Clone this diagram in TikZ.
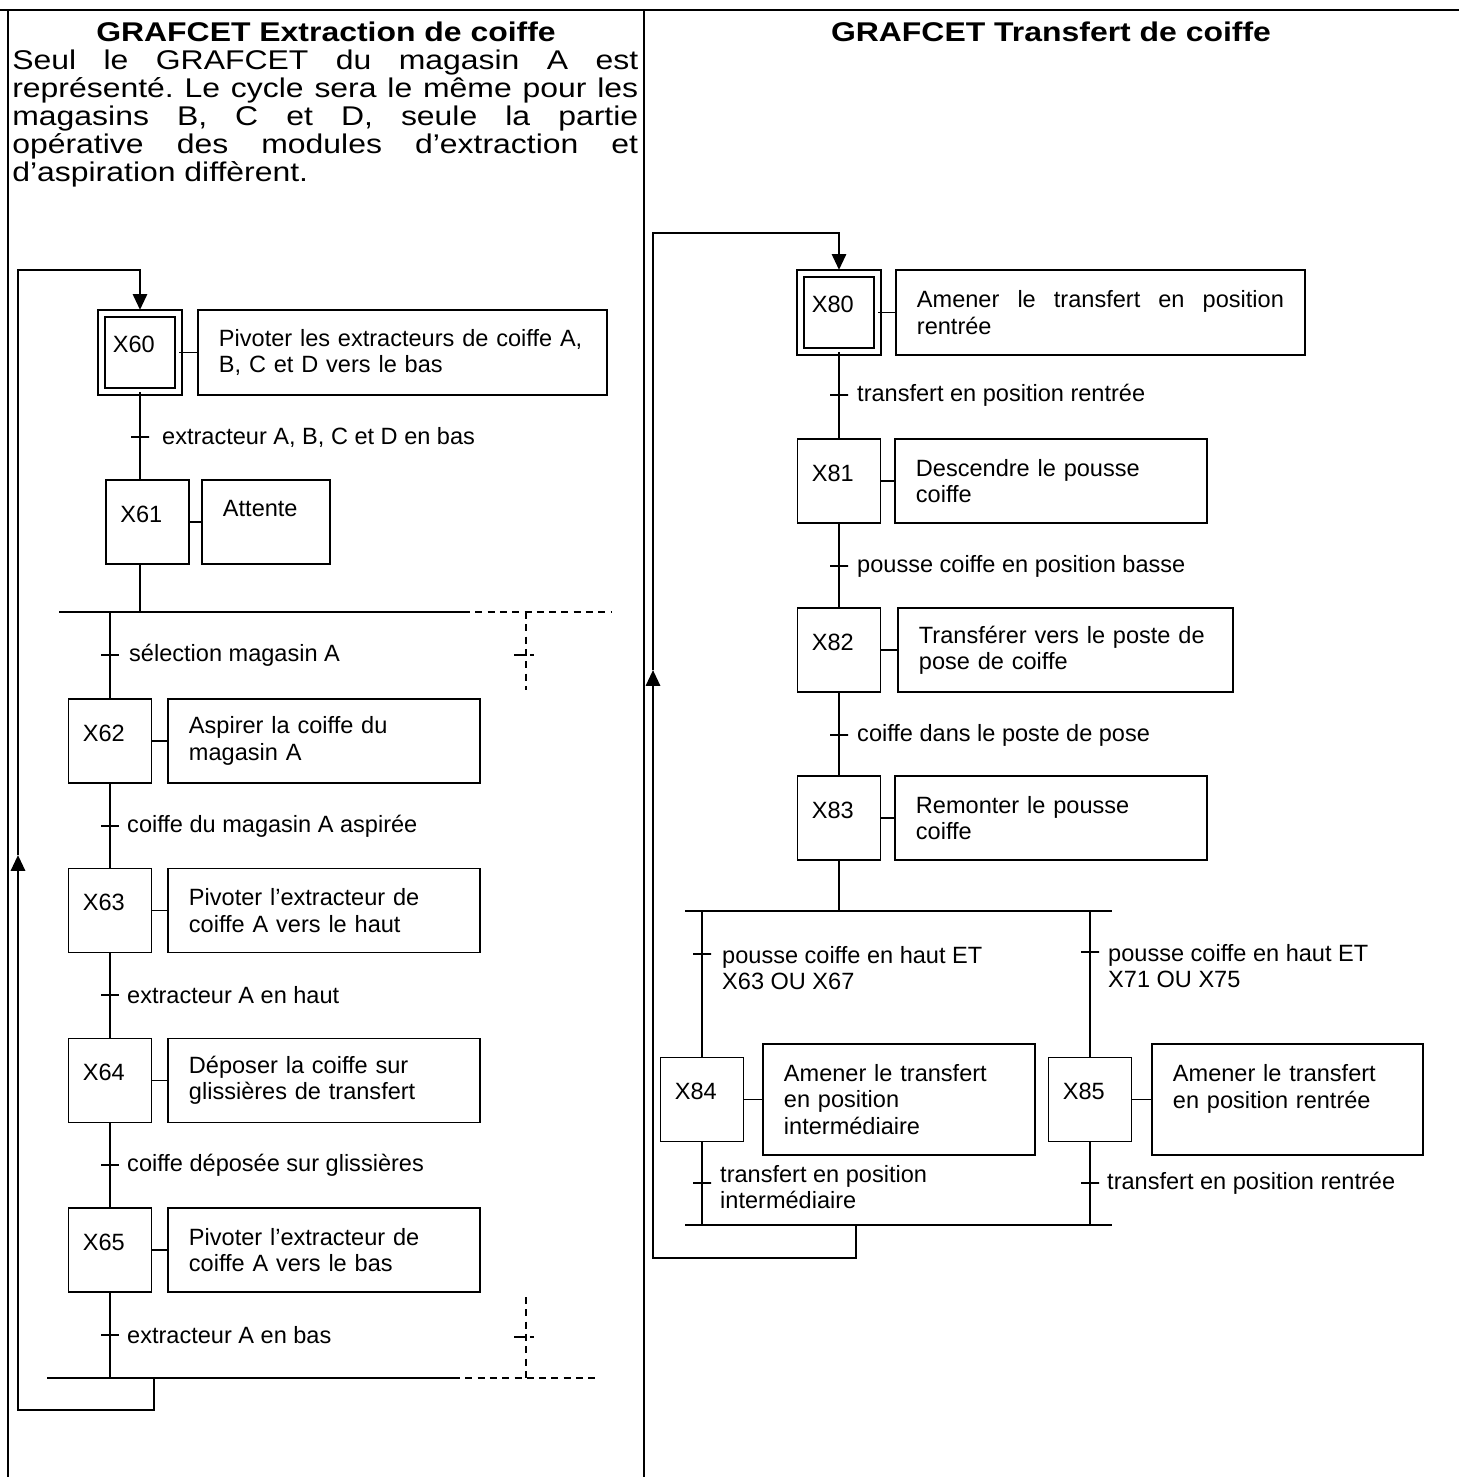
\documentclass[tikz,border=0pt]{standalone}
\usepackage{fontspec}
\setmainfont{Liberation Sans}
\newfontfamily\largefont{Liberation Sans}[FakeStretch=1.18]
\usetikzlibrary{arrows.meta,positioning,calc}
\hyphenpenalty=10000
\exhyphenpenalty=10000
\frenchspacing

\newcommand{\policeboite}{\fontsize{13.4pt}{15pt}\selectfont}
\newcommand{\policetexte}{\largefont\fontsize{15.4pt}{15.93pt}\selectfont}

\tikzset{
  % Etape du grafcet
  etape/.style={
    rectangle, draw, line width=1.1pt,
    minimum width=1.66cm, minimum height=1.68cm,
    inner sep=0pt, text height=6pt, text depth=6pt,
    font=\policeboite, execute at end node={\hspace{7pt}}
  },
  % Etape initiale (double cadre)
  etapeinit/.style={
    etape, double, double distance=2.4pt,
    minimum width=1.54cm, minimum height=1.56cm
  },
  % Rectangle d'action
  action/.style={
    rectangle, draw, line width=1.1pt, anchor=west,
    text width=#1, inner xsep=0.42cm, inner ysep=0pt,
    minimum height=1.68cm, align=left, font=\policeboite
  },
  % Trait de transition
  recep/.style={
    rectangle, draw, line width=1pt,
    minimum width=0.36cm, minimum height=0pt, inner sep=0pt
  },
  % Receptivite
  cond/.style={font=\policeboite, inner sep=0pt, align=left, anchor=west},
  % Traits
  liaison/.style={line width=1pt},
  barre/.style={line width=1.2pt},
  renvoi/.style={line width=1.5pt},
  fleche/.style={renvoi, -{Triangle[length=9pt,width=8pt]}},
  pointille/.style={line width=1pt, dash pattern=on 4pt off 3pt},
  % transition en pointille
  recepvide/.style={line width=1pt, dash pattern=on 6.8pt off 2.3pt on 2.3pt off 20pt}
}

\begin{document}
\begin{tikzpicture}[x=0.02cm, y=-0.02cm]
  \useasboundingbox (0,0) rectangle (1459,1477);

  % ---- CADRE ----
  \draw[line width=1.3pt] (0,10) -- (1459,10);
  \draw[line width=1.1pt] (8,10) -- (8,1477);
  \draw[line width=1.1pt] (644,10) -- (644,1477);

  % ---- TITRES ----
  \node[font=\policetexte\bfseries, anchor=base] (titreG) at (326,41.5) {GRAFCET Extraction de coiffe};
  \node[font=\policetexte\bfseries, anchor=base] (titreD) at (1051,41.5) {GRAFCET Transfert de coiffe};
  \node[font=\policetexte, anchor=north west, inner sep=0pt, text width=12.52cm, align=justify] (texteG) at (12,50)
    {Seul le GRAFCET du magasin A est\linebreak représenté. Le cycle sera le même pour les\linebreak magasins B, C et D, seule la partie\linebreak opérative des modules d’extraction et\linebreak d’aspiration diffèrent.};

  % ==== GRAFCET EXTRACTION ====
  \node[etapeinit] (X60) at (140,352.5) {X60};
  \node[action=7.34cm, minimum height=1.7cm] (A60) at (197,352.5) {Pivoter les extracteurs de coiffe A,\\B, C et D vers le bas};
  \node[recep] (t60) at (140,437) {};
  \node[cond, right=0.24cm of t60] (c60) {extracteur A, B, C et D en bas};
  \node[etape] (X61) at (147.5,522) {X61};
  \node[action=1.72cm] (A61) at (201,522) {Attente\\\mbox{}};

  % divergence en OU
  \coordinate (d1) at (59,612);
  \coordinate (d2) at (463,612);
  \coordinate (d3) at (611,612);
  \coordinate (p1) at (526,690);

  \node[recep] (t61) at (110,655) {};
  \node[cond, right=0.18cm of t61] (c61) {sélection magasin A};
  \node[etape] (X62) at (110,741) {X62};
  \node[action=5.4cm] (A62) at (167,741) {Aspirer la coiffe du\\magasin A};
  \node[recep] (t62) at (110,826) {};
  \node[cond, right=0.14cm of t62] (c62) {coiffe du magasin A aspirée};
  \node[etape] (X63) at (110,910.5) {X63};
  \node[action=5.4cm] (A63) at (167,910.5) {Pivoter l’extracteur de\\coiffe A vers le haut};
  \node[recep] (t63) at (110,995) {};
  \node[cond, right=0.14cm of t63] (c63) {extracteur A en haut};
  \node[etape] (X64) at (110,1080.5) {X64};
  \node[action=5.4cm] (A64) at (167,1080.5) {Déposer la coiffe sur\\glissières de transfert};
  \node[recep] (t64) at (110,1165) {};
  \node[cond, right=0.14cm of t64] (c64) {coiffe déposée sur glissières};
  \node[etape] (X65) at (110,1250) {X65};
  \node[action=5.4cm] (A65) at (167,1250) {Pivoter l’extracteur de\\coiffe A vers le bas};
  \node[recep] (t65) at (110,1335) {};
  \node[cond, right=0.14cm of t65] (c65) {extracteur A en bas};

  % convergence en OU
  \coordinate (f1) at (47,1378);
  \coordinate (f2) at (453,1378);
  \coordinate (f3) at (598,1378);
  \coordinate (p2) at (526,1297);

  % renvoi vers X60
  \coordinate (g1) at (154,1378);
  \coordinate (g2) at (18,1410);
  \coordinate (g3) at (18,855);
  \coordinate (g4) at (18,270);

  \draw[liaison] (X60.east) -- (A60.west);
  \draw[liaison] (X61.east) -- (A61.west);
  \draw[liaison] (X62.east) -- (A62.west);
  \draw[liaison] (X63.east) -- (A63.west);
  \draw[liaison] (X64.east) -- (A64.west);
  \draw[liaison] (X65.east) -- (A65.west);

  \draw[liaison] (X60.south) -- (X60.south |- X61.north);
  \draw[liaison] (X60.south |- X61.south) -- (X60.south |- d1);
  \draw[barre] (d1) -- (d2);
  \draw[pointille] (d2) -- (d3);
  \draw[pointille] (p1 |- d1) -- (p1);
  \draw[recepvide] ([xshift=-0.24cm]p1 |- t61) -- ([xshift=0.2cm]p1 |- t61);
  \draw[liaison] (X62.north |- d1) -- (X62.north);
  \draw[liaison] (X62.south) -- (X63.north);
  \draw[liaison] (X63.south) -- (X64.north);
  \draw[liaison] (X64.south) -- (X65.north);
  \draw[liaison] (X65.south) -- (X65.south |- f1);
  \draw[barre] (f1) -- (f2);
  \draw[pointille] (f2) -- (f3);
  \draw[pointille] (p2) -- (p2 |- f1);
  \draw[recepvide] ([xshift=-0.24cm]p2 |- 0,1337) -- ([xshift=0.2cm]p2 |- 0,1337);

  \draw[fleche] (g1) |- (g2) -- (g3);
  \draw[fleche, shorten >=1.5pt] (g3) -- (g4) -| (X60.north);

  % ==== GRAFCET TRANSFERT ====
  \node[etapeinit] (X80) at (839,312.5) {X80};
  \node[action=7.34cm, minimum height=1.7cm, align=justify] (A80) at (895,312.5) {Amener le transfert en position\linebreak rentrée};
  \node[recep] (t80) at (839,395) {};
  \node[cond, right=0.16cm of t80] (c80) {transfert en position rentrée};
  \node[etape] (X81) at (839,481) {X81};
  \node[action=5.4cm] (A81) at (894,481) {Descendre le pousse\\coiffe};
  \node[recep] (t81) at (839,566) {};
  \node[cond, right=0.16cm of t81] (c81) {pousse coiffe en position basse};
  \node[etape] (X82) at (839,650) {X82};
  \node[action=5.86cm] (A82) at (897,650) {Transférer vers le poste de\\pose de coiffe};
  \node[recep] (t82) at (839,735) {};
  \node[cond, right=0.16cm of t82] (c82) {coiffe dans le poste de pose};
  \node[etape] (X83) at (839,818) {X83};
  \node[action=5.4cm] (A83) at (894,818) {Remonter le pousse\\coiffe};

  % divergence en OU
  \coordinate (e1) at (685,911);
  \coordinate (e2) at (1112,911);

  \node[recep] (t84) at (702,954) {};
  \node[cond, right=0.2cm of t84, anchor=north west, yshift=0.16cm] (c84) {pousse coiffe en haut ET\\X63 OU X67};
  \node[recep] (t85) at (1090,952) {};
  \node[cond, right=0.16cm of t85, anchor=north west, yshift=0.16cm] (c85) {pousse coiffe en haut ET\\X71 OU X75};
  \node[etape] (X84) at (702,1099.5) {X84};
  \node[action=4.6cm, minimum height=2.22cm] (A84) at (762,1099.5) {Amener le transfert\\en position\\intermédiaire};
  \node[etape] (X85) at (1090,1099.5) {X85};
  \node[action=4.58cm, minimum height=2.22cm] (A85) at (1151,1099.5) {Amener le transfert\\en position rentrée\\\mbox{}};
  \node[recep] (t86) at (702,1183) {};
  \node[cond, right=0.16cm of t86, yshift=-0.08cm] (c86) {transfert en position\\intermédiaire};
  \node[recep] (t87) at (1090,1183) {};
  \node[cond, right=0.14cm of t87] (c87) {transfert en position rentrée};

  % convergence en OU
  \coordinate (h1) at (685,1225);
  \coordinate (h2) at (1112,1225);

  % renvoi vers X80
  \coordinate (k1) at (856,1225);
  \coordinate (k2) at (653,1258);
  \coordinate (k3) at (653,670);
  \coordinate (k4) at (653,233);

  \draw[liaison] (X80.east) -- (A80.west);
  \draw[liaison] (X81.east) -- (A81.west);
  \draw[liaison] (X82.east) -- (A82.west);
  \draw[liaison] (X83.east) -- (A83.west);
  \draw[liaison] (X84.east) -- (A84.west);
  \draw[liaison] (X85.east) -- (A85.west);

  \draw[liaison] (X80.south) -- (X81.north);
  \draw[liaison] (X81.south) -- (X82.north);
  \draw[liaison] (X82.south) -- (X83.north);
  \draw[liaison] (X83.south) -- (X83.south |- e1);
  \draw[barre] (e1) -- (e2);
  \draw[liaison] (X84.north |- e1) -- (X84.north);
  \draw[liaison] (X85.north |- e1) -- (X85.north);
  \draw[liaison] (X84.south) -- (X84.south |- h1);
  \draw[liaison] (X85.south) -- (X85.south |- h1);
  \draw[barre] (h1) -- (h2);

  \draw[fleche] (k1) |- (k2) -- (k3);
  \draw[fleche, shorten >=1.5pt] (k3) -- (k4) -| (X80.north);

\end{tikzpicture}
\end{document}
